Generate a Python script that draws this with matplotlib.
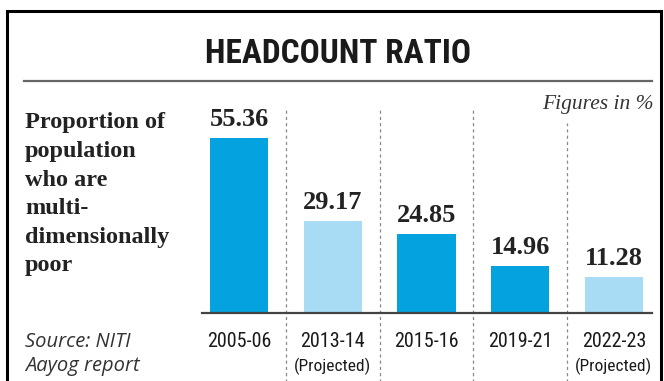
import matplotlib
matplotlib.use("Agg")
import matplotlib.pyplot as plt
from matplotlib import font_manager as fm
from matplotlib.patches import Rectangle
from matplotlib.lines import Line2D

# ---- data ----
categories = ["2005-06", "2013-14", "2015-16", "2019-21", "2022-23"]
sublabels = ["", "(Projected)", "", "", "(Projected)"]
values = [55.36, 29.17, 24.85, 14.96, 11.28]
projected = [False, True, False, False, True]
title = "HEADCOUNT RATIO"
side_lines = ["Proportion of", "population", "who are", "multi-", "dimensionally", "poor"]
source_lines = ["Source: NITI", "Aayog report"]
unit_note = "Figures in %"

DARK = "#04a3df"
LIGHT = "#a8dcf4"

names = {f.name for f in fm.fontManager.ttflist}


def pick(*cands, default="DejaVu Sans"):
    for c in cands:
        if c in names:
            return c
    return default


COND = pick("Roboto Condensed", "Liberation Sans Narrow", "Open Sans Condensed")
SERIF = pick("Liberation Serif", default="DejaVu Serif")
ISANS = pick("Open Sans", "Noto Sans", default="DejaVu Sans")

W, H = 664, 381
fig = plt.figure(figsize=(W / 100, H / 100), dpi=100)
fig.patch.set_facecolor("white")


def P(x, y):
    return (x / W, 1 - y / H)


# axes: x=0 at 239px, 93.75px per category; baseline at 313px, 3.16 px/unit
x0px, step = 239.0, 93.75
ax_l, ax_r = 202, 652
ax_top, ax_bot = 90, 313
ypx = 3.16
ax = fig.add_axes([ax_l / W, 1 - ax_bot / H, (ax_r - ax_l) / W, (ax_bot - ax_top) / H])
ax.set_xlim((ax_l - x0px) / step, (ax_r - x0px) / step)
ax.set_ylim(0, (ax_bot - ax_top) / ypx)
ax.set_facecolor("none")
for s in ["top", "right", "left"]:
    ax.spines[s].set_visible(False)
ax.spines["bottom"].set_color("#444444")
ax.spines["bottom"].set_linewidth(1.6)
ax.set_xticks([])
ax.set_yticks([])

xs = list(range(len(categories)))
colors = [LIGHT if p else DARK for p in projected]
ax.bar(xs, values, width=0.62, color=colors, zorder=2)

for x, v in zip(xs, values):
    ax.annotate(f"{v:.2f}", (x, v), xytext=(0, 12), textcoords="offset pixels",
                ha="center", va="baseline", fontsize=19, fontweight="bold",
                family=SERIF, color="#222222")

# dashed dividers between categories
for i in range(len(categories) - 1):
    top = 65.2 if i < 3 else 60.1
    ax.plot([i + 0.5, i + 0.5], [-22, top], ls=(0, (2.5, 2.5)), color="#888888",
            lw=0.9, clip_on=False, zorder=1)

# category labels
for x, c, s in zip(xs, categories, sublabels):
    ax.annotate(c, (x, 0), xytext=(0, -34), textcoords="offset pixels", ha="center",
                va="baseline", fontsize=14.5, family=COND, fontstretch="condensed",
                color="#1a1a1a", annotation_clip=False)
    if s:
        ax.annotate(s, (x, 0), xytext=(0, -58), textcoords="offset pixels", ha="center",
                    va="baseline", fontsize=12.5, family=COND, fontstretch="condensed",
                    color="#1a1a1a", annotation_clip=False)

# frame
fig.add_artist(Rectangle(P(7, 392), (661 - 7) / W, (392 - 11) / H, transform=fig.transFigure,
                         fill=False, edgecolor="black", lw=2.2))
# title
fig.text(*P(338, 63), title, ha="center", va="baseline", fontsize=24, fontweight="bold",
         family=COND, fontstretch="condensed", color="#1a1a1a")
fig.add_artist(Line2D([24 / W, 652 / W], [1 - 81 / H] * 2, transform=fig.transFigure,
                      color="#666666", lw=1.6))
# unit note
fig.text(*P(654, 109), unit_note, ha="right", va="baseline", fontsize=15.5,
         family=SERIF, style="italic", color="#333333")
# side description
for i, line in enumerate(side_lines):
    fig.text(*P(25, 128.3 + 28.6 * i), line, ha="left", va="baseline", fontsize=17.5,
             fontweight="bold", family=SERIF, color="#222222")
# source
for i, line in enumerate(source_lines):
    fig.text(*P(25, 347 + 24 * i), line, ha="left", va="baseline", fontsize=14.5,
             family=ISANS, style="italic", color="#333333")

fig.savefig("out.png", dpi=100, facecolor="white")
